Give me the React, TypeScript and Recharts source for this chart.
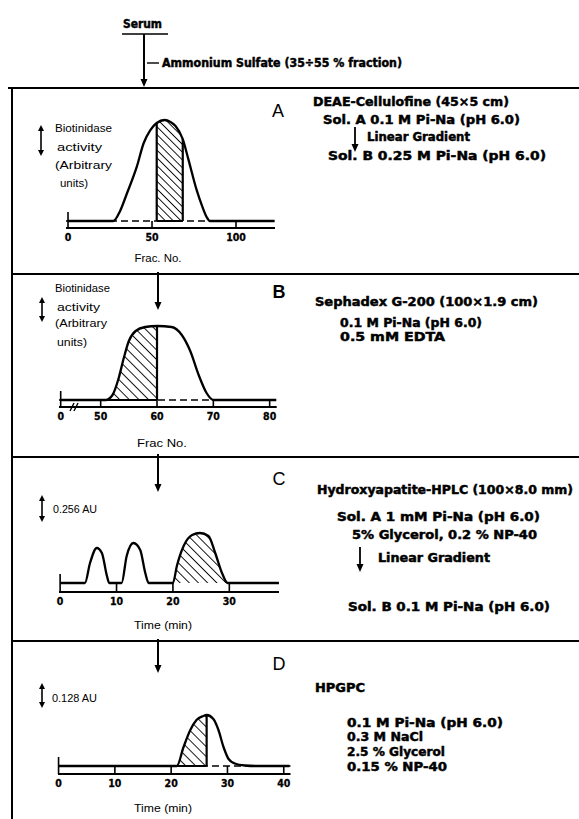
import React from 'react';
import { ComposedChart, Line, Area, XAxis, YAxis, ReferenceLine } from 'recharts';

// ---------- DATA ----------
// Panel A: DEAE-Cellulofine, biotinidase activity vs fraction number
const fracA = [0, 27, 31, 35, 41, 45, 49, 52.8, 57.5, 61, 64, 68.3, 71.5, 76.5, 80, 82.5, 84.5, 123];
const activityA = [0, 0, 10, 27, 54, 77, 90, 97, 100, 98, 94, 81, 62, 31, 14, 4, 0, 0];
const pooledA = [52.8, 68.3];
const ticksA = [0, 50, 100];
const tickLabelsA = ['0', '50', '100'];

// Panel B: Sephadex G-200
const fracB = [42.9, 50.9, 52.1, 53.2, 54.1, 55, 56.2, 57.9, 60, 62.6, 64.4, 65.9, 67.4, 68.8, 70, 81.2];
const activityB = [0, 0, 5, 22, 42, 59, 69, 73, 74, 73, 65, 49, 25, 7, 0, 0];
const pooledB = [50.9, 60];
const ticksB = [42.9, 50, 60, 70, 80];
const tickLabelsB = ['0', '50', '60', '70', '80'];

// Panel C: Hydroxyapatite-HPLC, absorbance vs time
const timeC = [0, 4.4, 5.3, 6.5, 7.4, 8.3, 8.7, 10.9, 11.8, 13, 14.2, 15.1, 15.7, 20, 20.7, 21.9, 23.4, 24.8, 26.3, 27.5, 28.7, 29.7, 38.8];
const absC = [0, 0, 20, 35, 30, 7, 0, 0, 27, 40, 33, 10, 0, 0, 17, 37, 48, 50, 47, 30, 10, 0, 0];
const pooledC = [20, 29.7];
const ticksC = [0, 10, 20, 30];
const tickLabelsC = ['0', '10', '20', '30'];

// Panel D: HPGPC
const timeD = [0, 21, 22.2, 23.4, 24.5, 25.7, 26.3, 27.5, 28.4, 29.3, 30.2, 31.3, 33.1, 35, 41];
const absD = [0, 0, 19, 36, 46, 50, 51, 47, 36, 19, 7, 2.5, 0.5, 0, 0];
const pooledD = [21, 26.3];
const ticksD = [0, 10, 20, 30, 40];
const tickLabelsD = ['0', '10', '20', '30', '40'];

// ---------- LAYOUT ----------
const BOLD = "'Liberation Sans Narrow', 'DejaVu Sans Condensed', 'Roboto', 'Liberation Sans', sans-serif";
const THIN = "'Liberation Sans', Arial, sans-serif";

type Cfg = {
  id: string;
  xs: number[];
  vs: number[];
  pooled: number[];
  ticks: number[];
  tickLabels: string[];
  xMin: number;
  xMax: number;
  x0Px: number;
  kx: number;
  basePx: number;
  axisPx: number;
  topPx: number;
  ky: number;
  edges: ('left' | 'right')[];
  dashed: boolean;
  hatchGap: number;
};

const panels: Cfg[] = [
  { id: 'A', xs: fracA, vs: activityA, pooled: pooledA, ticks: ticksA, tickLabels: tickLabelsA,
    xMin: -1.2, xMax: 123.2, x0Px: 68, kx: 1.68, basePx: 221, axisPx: 228, topPx: 112, ky: 1.01,
    edges: ['left', 'right'], dashed: true, hatchGap: 5.5 },
  { id: 'B', xs: fracB, vs: activityB, pooled: pooledB, ticks: ticksB, tickLabels: tickLabelsB,
    xMin: 42.6, xMax: 81.25, x0Px: -180.7, kx: 5.633, basePx: 400, axisPx: 407, topPx: 320, ky: 1,
    edges: ['right'], dashed: true, hatchGap: 6.8 },
  { id: 'C', xs: timeC, vs: absC, pooled: pooledC, ticks: ticksC, tickLabels: tickLabelsC,
    xMin: -0.2, xMax: 38.8, x0Px: 60, kx: 5.64, basePx: 583, axisPx: 592, topPx: 526, ky: 1,
    edges: [], dashed: false, hatchGap: 6.5 },
  { id: 'D', xs: timeD, vs: absD, pooled: pooledD, ticks: ticksD, tickLabels: tickLabelsD,
    xMin: -0.1, xMax: 41.2, x0Px: 58.5, kx: 5.63, basePx: 766, axisPx: 774, topPx: 708, ky: 1,
    edges: ['right'], dashed: true, hatchGap: 7 },
];

function PanelChart({ cfg }: { cfg: Cfg }) {
  const rows = cfg.xs.map((x, i) => ({
    x,
    v: cfg.vs[i],
    h: x >= cfg.pooled[0] && x <= cfg.pooled[1] ? cfg.vs[i] : null,
  }));
  const hatchRows = rows.filter((r) => r.h !== null);
  const first = hatchRows[0];
  const last = hatchRows[hatchRows.length - 1];
  const M = { top: 4, right: 14, bottom: 0, left: 14 };
  const axisH = 24;
  const plotLeft = cfg.x0Px + cfg.xMin * cfg.kx;
  const plotWidth = (cfg.xMax - cfg.xMin) * cfg.kx;
  const yMin = -(cfg.axisPx - cfg.basePx) / cfg.ky;
  const yMax = (cfg.basePx - cfg.topPx) / cfg.ky;
  const width = plotWidth + M.left + M.right;
  const height = cfg.axisPx - cfg.topPx + M.top + axisH;
  const gap = cfg.axisPx - cfg.basePx;

  const renderTick = (p: any) => {
    const { x, y, index } = p;
    const len = index === 0 ? gap + 9 : gap;
    return (
      <g>
        <line x1={x} x2={x} y1={y} y2={y - len} stroke="#000" strokeWidth={1.6} />
        <text x={x} y={y + 13} textAnchor="middle" fontFamily={BOLD} fontWeight={700} fontSize={10.5} fill="#000" stroke="#000" strokeWidth={0.3}>
          {cfg.tickLabels[index]}
        </text>
      </g>
    );
  };

  const pid = `hatch-${cfg.id}`;
  return (
    <div style={{ position: 'absolute', left: plotLeft - M.left, top: cfg.topPx - M.top }}>
      <ComposedChart width={width} height={height} data={rows} margin={M}>
        <defs>
          <pattern id={pid} width={cfg.hatchGap} height={cfg.hatchGap} patternUnits="userSpaceOnUse" patternTransform="rotate(-45)">
            <line x1={0} y1={0} x2={0} y2={cfg.hatchGap} stroke="#000" strokeWidth={1.8} />
          </pattern>
        </defs>
        <XAxis
          type="number"
          dataKey="x"
          domain={[cfg.xMin, cfg.xMax]}
          allowDataOverflow
          ticks={cfg.ticks}
          interval={0}
          tick={renderTick}
          tickLine={false}
          tickSize={0}
          tickMargin={0}
          axisLine={{ stroke: '#000', strokeWidth: 2.2 }}
          height={axisH}
        />
        <YAxis hide type="number" domain={[yMin, yMax]} allowDataOverflow />
        {cfg.dashed && <ReferenceLine y={0} stroke="#000" strokeWidth={1.5} strokeDasharray="7 4" />}
        {cfg.dashed && (
          <ReferenceLine segment={[{ x: first.x, y: 0 }, { x: last.x, y: 0 }]} stroke="#000" strokeWidth={2} />
        )}
        <Area
          dataKey="h"
          type="monotone"
          fill={`url(#${pid})`}
          fillOpacity={1}
          stroke="none"
          baseValue={0}
          isAnimationActive={false}
          connectNulls={false}
        />
        <Line dataKey="v" type="monotone" stroke="#000" strokeWidth={2.3} dot={false} isAnimationActive={false} />
        {cfg.edges.includes('left') && (
          <ReferenceLine segment={[{ x: first.x, y: 0 }, { x: first.x, y: first.v }]} stroke="#000" strokeWidth={2.2} />
        )}
        {cfg.edges.includes('right') && (
          <ReferenceLine segment={[{ x: last.x, y: 0 }, { x: last.x, y: last.v }]} stroke="#000" strokeWidth={2.2} />
        )}
      </ComposedChart>
    </div>
  );
}

function T({ x, y, w, size = 12.5, bold = true, anchor = 'start', children }: any) {
  return (
    <text
      x={x}
      y={y}
      textLength={w}
      lengthAdjust="spacingAndGlyphs"
      textAnchor={anchor}
      fontFamily={bold ? BOLD : THIN}
      fontWeight={bold ? 700 : 400}
      fontSize={size}
      fill="#000"
      stroke={bold ? '#000' : 'none'}
      strokeWidth={bold ? 0.45 : 0}
    >
      {children}
    </text>
  );
}

function DownArrow({ x, y1, y2, w = 2 }: any) {
  return (
    <g>
      <line x1={x} x2={x} y1={y1} y2={y2 - 6} stroke="#000" strokeWidth={w} />
      <polygon points={`${x - 3.5},${y2 - 8} ${x + 3.5},${y2 - 8} ${x},${y2}`} fill="#000" />
    </g>
  );
}

function DoubleArrow({ x, y1, y2 }: any) {
  return (
    <g>
      <line x1={x} x2={x} y1={y1 + 5} y2={y2 - 5} stroke="#000" strokeWidth={1.6} />
      <polygon points={`${x - 3},${y1 + 6} ${x + 3},${y1 + 6} ${x},${y1}`} fill="#000" />
      <polygon points={`${x - 3},${y2 - 6} ${x + 3},${y2 - 6} ${x},${y2}`} fill="#000" />
    </g>
  );
}

function Overlay() {
  return (
    <svg width={579} height={819} style={{ position: 'absolute', left: 0, top: 0 }}>
      {/* header */}
      <T x={123} y={28} w={39} size={12}>Serum</T>
      <line x1={122} x2={168} y1={34} y2={34} stroke="#000" strokeWidth={1.6} />
      <DownArrow x={144} y1={34} y2={87} />
      <line x1={147} x2={159} y1={63} y2={63} stroke="#000" strokeWidth={1.4} />
      <T x={162} y={67} w={240} size={12}>Ammonium Sulfate (35÷55 % fraction)</T>

      {/* frame */}
      <line x1={8} x2={579} y1={88} y2={88} stroke="#000" strokeWidth={2} />
      <line x1={12} x2={12} y1={88} y2={819} stroke="#000" strokeWidth={2} />
      <line x1={12} x2={579} y1={274} y2={274} stroke="#000" strokeWidth={1.8} />
      <line x1={12} x2={579} y1={457} y2={457} stroke="#000" strokeWidth={1.8} />
      <line x1={12} x2={579} y1={641} y2={641} stroke="#000" strokeWidth={1.8} />

      {/* panel letters */}
      <text x={278} y={117} textAnchor="middle" fontFamily={THIN} fontSize={18} fill="#000">A</text>
      <text x={279} y={298} textAnchor="middle" fontFamily={THIN} fontSize={18} fontWeight={700} fill="#000">B</text>
      <text x={279} y={485} textAnchor="middle" fontFamily={THIN} fontSize={18} fill="#000">C</text>
      <text x={279} y={670} textAnchor="middle" fontFamily={THIN} fontSize={18} fill="#000">D</text>

      {/* arrows between panels */}
      <DownArrow x={158} y1={272} y2={310} />
      <DownArrow x={158} y1={454} y2={492} />
      <DownArrow x={158} y1={639} y2={673} />

      {/* y scale indicators */}
      <DoubleArrow x={41} y1={125} y2={156} />
      <DoubleArrow x={42} y1={297} y2={322} />
      <DoubleArrow x={42} y1={495} y2={522} />
      <DoubleArrow x={42} y1={683} y2={708} />

      {/* left labels */}
      <T x={55} y={132} w={57} size={10.5} bold={false}>Biotinidase</T>
      <T x={57} y={151} w={45} size={10.5} bold={false}>activity</T>
      <T x={55} y={169} w={57} size={10.5} bold={false}>(Arbitrary</T>
      <T x={60} y={187} w={28} size={10.5} bold={false}>units)</T>

      <T x={55} y={292} w={55} size={10.5} bold={false}>Biotinidase</T>
      <T x={57} y={311} w={43} size={10.5} bold={false}>activity</T>
      <T x={55} y={327} w={52} size={10.5} bold={false}>(Arbitrary</T>
      <T x={57} y={346} w={30} size={10.5} bold={false}>units)</T>

      <T x={53} y={513} w={44} size={10} bold={false}>0.256 AU</T>
      <T x={52} y={702} w={45} size={10} bold={false}>0.128 AU</T>

      {/* axis titles */}
      <T x={158} y={262} w={47} size={10} bold={false} anchor="middle">Frac. No.</T>
      <T x={162} y={447} w={50} size={10} bold={false} anchor="middle">Frac No.</T>
      <T x={163} y={629} w={58} size={10} bold={false} anchor="middle">Time (min)</T>
      <T x={163} y={812} w={58} size={10} bold={false} anchor="middle">Time (min)</T>

      {/* axis break in B */}
      <line x1={70} x2={74} y1={411} y2={403} stroke="#000" strokeWidth={1.4} />
      <line x1={74} x2={78} y1={411} y2={403} stroke="#000" strokeWidth={1.4} />

      {/* right texts: A */}
      <T x={313} y={106} w={196}>DEAE-Cellulofine (45×5 cm)</T>
      <T x={323} y={124} w={197}>Sol. A 0.1 M Pi-Na (pH 6.0)</T>
      <DownArrow x={355} y1={127} y2={152} w={1.8} />
      <T x={367} y={141} w={103}>Linear Gradient</T>
      <T x={328} y={160} w={218}>Sol. B 0.25 M Pi-Na (pH 6.0)</T>

      {/* B */}
      <T x={315} y={306} w={223}>Sephadex G-200 (100×1.9 cm)</T>
      <T x={340} y={327} w={142}>0.1 M Pi-Na (pH 6.0)</T>
      <T x={340} y={341} w={105}>0.5 mM EDTA</T>

      {/* C */}
      <T x={317} y={494} w={256}>Hydroxyapatite-HPLC (100×8.0 mm)</T>
      <T x={337} y={521} w={203}>Sol. A 1 mM Pi-Na (pH 6.0)</T>
      <T x={352} y={539} w={185}>5% Glycerol, 0.2 % NP-40</T>
      <DownArrow x={360} y1={547} y2={572} w={1.8} />
      <T x={378} y={562} w={112}>Linear Gradient</T>
      <T x={348} y={611} w={202}>Sol. B 0.1 M Pi-Na (pH 6.0)</T>

      {/* D */}
      <T x={315} y={692} w={50}>HPGPC</T>
      <T x={347} y={727} w={156}>0.1 M Pi-Na (pH 6.0)</T>
      <T x={347} y={741} w={76}>0.3 M NaCl</T>
      <T x={347} y={756} w={98}>2.5 % Glycerol</T>
      <T x={347} y={771} w={100}>0.15 % NP-40</T>
    </svg>
  );
}

export default function App() {
  return (
    <div style={{ position: 'absolute', left: 0, top: 0, width: 579, height: 819, background: '#fff' }}>
      <Overlay />
      {panels.map((p) => (
        <PanelChart key={p.id} cfg={p} />
      ))}
    </div>
  );
}
